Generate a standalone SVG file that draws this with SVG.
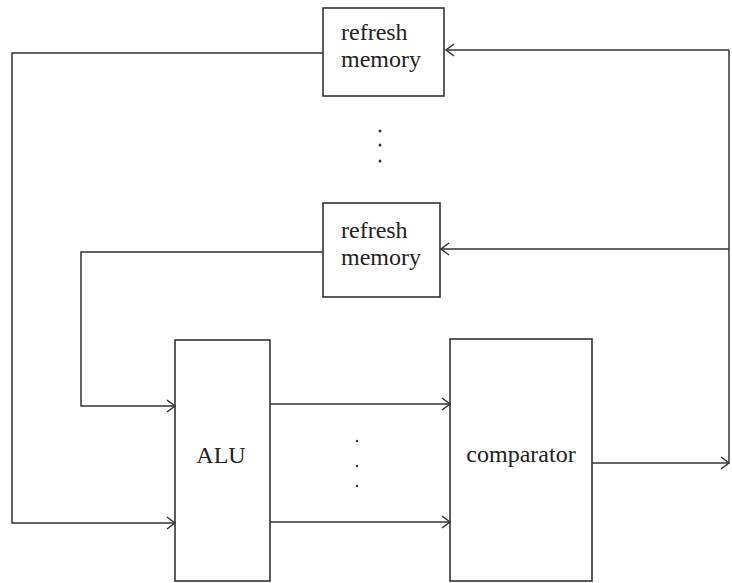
<svg xmlns="http://www.w3.org/2000/svg" width="732" height="583" viewBox="0 0 732 583">
<defs>
<style>
.box{fill:none;stroke:#333;stroke-width:1.6}
.ln{fill:none;stroke:#333;stroke-width:1.5}
.t{font-family:"Liberation Serif","Times New Roman",serif;font-size:24px;fill:#222}
.dot{fill:#333}
</style>
<marker id="ah" markerWidth="12" markerHeight="14" refX="9" refY="7" orient="auto" markerUnits="userSpaceOnUse">
<path d="M1,1 L9,7 L1,13" fill="none" stroke="#333" stroke-width="1.5"/>
</marker>
</defs>
<rect width="732" height="583" fill="#fff"/>
<g id="connectors">
<path class="ln" d="M592,463 H729" marker-end="url(#ah)"/>
<path class="ln" d="M729,463 V50"/>
<path class="ln" d="M729,50 H446" marker-end="url(#ah)"/>
<path class="ln" d="M729,249 H441" marker-end="url(#ah)"/>
<path class="ln" d="M323,53 H12 V523 H175" marker-end="url(#ah)"/>
<path class="ln" d="M323,252 H81 V406 H175" marker-end="url(#ah)"/>
<path class="ln" d="M270,404 H450" marker-end="url(#ah)"/>
<path class="ln" d="M270,522 H450" marker-end="url(#ah)"/>
</g>
<g id="refresh1">
<rect class="box" x="323" y="8" width="121" height="88"/>
<text class="t" x="341" y="40">refresh</text>
<text class="t" x="341" y="67">memory</text>
</g>
<g id="dots-top">
<circle class="dot" cx="380" cy="131" r="1.5"/>
<circle class="dot" cx="380" cy="145" r="1.5"/>
<circle class="dot" cx="380" cy="161" r="1.5"/>
</g>
<g id="refresh2">
<rect class="box" x="323" y="203" width="117" height="94"/>
<text class="t" x="341" y="238">refresh</text>
<text class="t" x="341" y="265">memory</text>
</g>
<g id="alu">
<rect class="box" x="175" y="340" width="95" height="241"/>
<text class="t" x="221" y="463" text-anchor="middle">ALU</text>
</g>
<g id="dots-mid">
<circle class="dot" cx="357" cy="441" r="1.2"/>
<circle class="dot" cx="357" cy="466" r="1.2"/>
<circle class="dot" cx="357" cy="486" r="1.2"/>
</g>
<g id="comparator">
<rect class="box" x="450" y="339" width="142" height="242"/>
<text class="t" x="521" y="462" text-anchor="middle">comparator</text>
</g>
</svg>
